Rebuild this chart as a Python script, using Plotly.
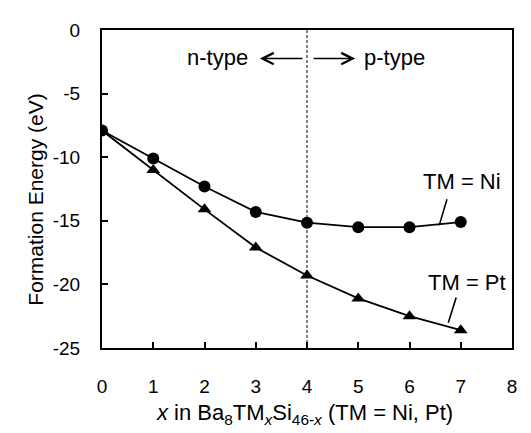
import plotly.graph_objects as go

x_vals = [0, 1, 2, 3, 4, 5, 6, 7]
ni_energy = [-7.9, -10.1, -12.3, -14.3, -15.15, -15.5, -15.5, -15.1]
pt_energy = [-7.9, -11.0, -14.1, -17.1, -19.3, -21.1, -22.5, -23.6]
x_ticks = [0, 1, 2, 3, 4, 5, 6, 7, 8]
x_tick_labels = ["0", "1", "2", "3", "4", "5", "6", "7", "8"]
y_ticks = [0, -5, -10, -15, -20, -25]
y_tick_labels = ["0", "-5", "-10", "-15", "-20", "-25"]

FONT = "Liberation Sans, Arial, sans-serif"
BLACK = "black"

fig = go.Figure()
fig.add_trace(go.Scatter(x=x_vals, y=pt_energy, mode="lines+markers", name="TM = Pt",
                         line=dict(color=BLACK, width=1.8),
                         marker=dict(symbol="triangle-up", size=12, color=BLACK)))
fig.add_trace(go.Scatter(x=x_vals, y=ni_energy, mode="lines+markers", name="TM = Ni",
                         line=dict(color=BLACK, width=1.8),
                         marker=dict(symbol="circle", size=12, color=BLACK)))

# dashed divider at x = 4
fig.add_shape(type="line", xref="x", yref="paper", x0=4, x1=4, y0=0, y1=1,
              line=dict(color=BLACK, width=1, dash="3px,2px"))

# n-type / p-type labels with arrows
fig.add_annotation(x=2.89, y=-2.15, xref="x", yref="y", text="n-type", showarrow=False,
                   xanchor="right", yanchor="middle", font=dict(size=22, color=BLACK, family=FONT))
fig.add_annotation(x=5.07, y=-2.15, xref="x", yref="y", text="p-type", showarrow=False,
                   xanchor="left", yanchor="middle", font=dict(size=22, color=BLACK, family=FONT))
fig.add_annotation(x=3.08, y=-2.25, ax=3.94, ay=-2.25, xref="x", yref="y", axref="x", ayref="y",
                   text="", showarrow=True, arrowhead=5, arrowsize=1.5, arrowwidth=1.5,
                   arrowcolor=BLACK, standoff=0, startstandoff=0)
fig.add_annotation(x=4.94, y=-2.25, ax=4.10, ay=-2.25, xref="x", yref="y", axref="x", ayref="y",
                   text="", showarrow=True, arrowhead=5, arrowsize=1.5, arrowwidth=1.5,
                   arrowcolor=BLACK, standoff=0, startstandoff=0)

# series labels with leader lines
fig.add_annotation(x=6.58, y=-15.36, ax=6.74, ay=-13.18, xref="x", yref="y", axref="x", ayref="y",
                   text="", showarrow=True, arrowhead=0, arrowwidth=1.6, arrowcolor=BLACK,
                   standoff=0, startstandoff=0)
fig.add_annotation(x=7.02, y=-11.92, xref="x", yref="y", text="TM = Ni", showarrow=False,
                   font=dict(size=22, color=BLACK, family=FONT))
fig.add_annotation(x=6.757, y=-23.02, ax=6.92, ay=-20.92, xref="x", yref="y", axref="x", ayref="y",
                   text="", showarrow=True, arrowhead=0, arrowwidth=1.6, arrowcolor=BLACK,
                   standoff=0, startstandoff=0)
fig.add_annotation(x=7.13, y=-19.85, xref="x", yref="y", text="TM = Pt", showarrow=False,
                   font=dict(size=22, color=BLACK, family=FONT))

# axis titles
fig.add_annotation(x=-0.195, y=0.465, xref="paper", yref="paper", textangle=-90,
                   text="Formation Energy (eV)", showarrow=False,
                   font=dict(size=21, color=BLACK, family=FONT))
fig.add_annotation(x=0.495, y=-0.209, xref="paper", yref="paper",
                   text="<i>x</i> in Ba<sub>8</sub>TM<sub><i>x</i></sub>Si<sub>46-<i>x</i></sub> (TM = Ni, Pt)",
                   showarrow=False, yanchor="middle",
                   font=dict(size=22, color=BLACK, family=FONT))

fig.update_layout(
    width=523, height=425,
    margin=dict(l=94, r=19, t=15, b=85),
    paper_bgcolor="white", plot_bgcolor="white",
    showlegend=False,
    font=dict(family=FONT, size=19, color=BLACK),
    xaxis=dict(range=[0, 8], tickvals=x_ticks, ticktext=x_tick_labels, ticks="inside",
               ticklen=6, tickwidth=1.5, tickcolor=BLACK, showline=True, linecolor=BLACK,
               linewidth=2.2, mirror=True, showgrid=False, zeroline=False, ticklabelstandoff=20,
               tickfont=dict(size=19)),
    yaxis=dict(range=[-25, 0], tickvals=y_ticks, ticktext=y_tick_labels, ticks="inside",
               ticklen=6, tickwidth=1.5, tickcolor=BLACK, showline=True, linecolor=BLACK,
               linewidth=2.2, mirror=True, showgrid=False, zeroline=False, ticklabelstandoff=16,
               tickfont=dict(size=19)),
)

fig.write_html("out.html")
